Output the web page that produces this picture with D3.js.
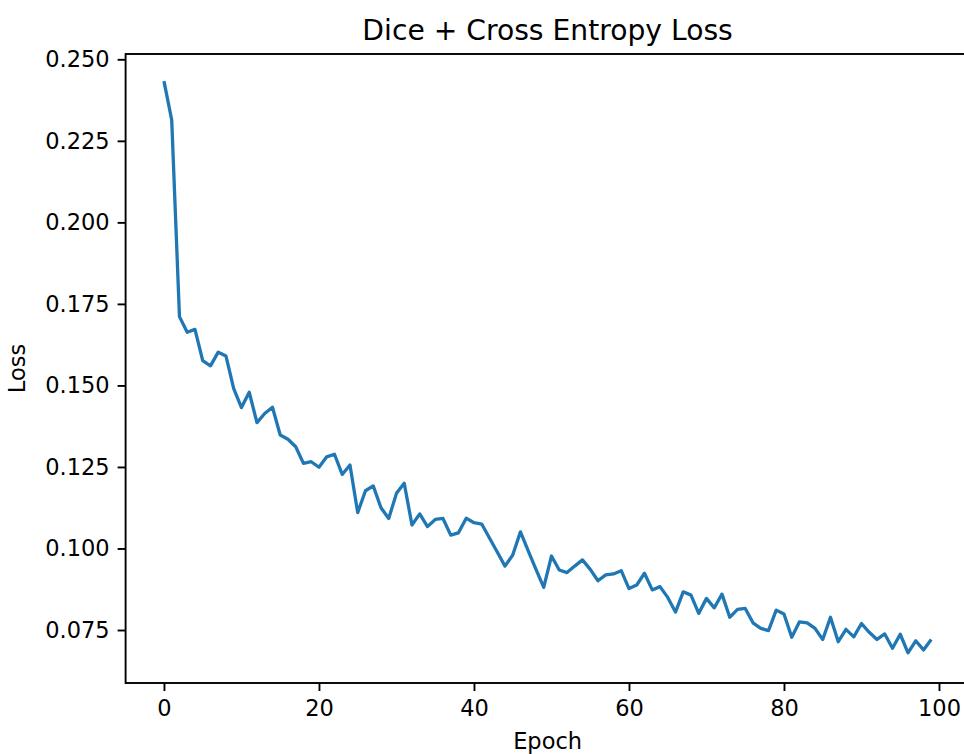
<!DOCTYPE html>
<html>
<head>
<meta charset="utf-8">
<script src="https://cdn.jsdelivr.net/npm/d3@7"></script>
<style>
  html, body { margin: 0; padding: 0; background: #fff; }
  svg { display: block; }
  text { font-family: "DejaVu Sans", sans-serif; fill: #000; }
</style>
</head>
<body>
<svg id="chart" width="964" height="754"></svg>
<script>
const epochs = d3.range(0, 100);
const lossValues = [
  0.2433, 0.2314, 0.1711, 0.1663, 0.1672, 0.1576, 0.1560, 0.1602, 0.1590, 0.1490,
  0.1432, 0.1479, 0.1386, 0.1414, 0.1433, 0.1348, 0.1335, 0.1312, 0.1261, 0.1266,
  0.1249, 0.1281, 0.1289, 0.1227, 0.1256, 0.1110, 0.1177, 0.1192, 0.1125, 0.1092,
  0.1169, 0.1200, 0.1072, 0.1106, 0.1067, 0.1089, 0.1092, 0.1041, 0.1048, 0.1093,
  0.1079, 0.1075, 0.1032, 0.0989, 0.0946, 0.0980, 0.1051, 0.0993, 0.0936, 0.0881,
  0.0977, 0.0934, 0.0926, 0.0946, 0.0965, 0.0936, 0.0901, 0.0919, 0.0922, 0.0932,
  0.0877, 0.0888, 0.0924, 0.0873, 0.0883, 0.0850, 0.0805, 0.0867, 0.0857, 0.0801,
  0.0847, 0.0818, 0.0860, 0.0789, 0.0813, 0.0816, 0.0772, 0.0755, 0.0748, 0.0811,
  0.0799, 0.0728, 0.0775, 0.0772, 0.0755, 0.0721, 0.0789, 0.0714, 0.0752, 0.0729,
  0.0770, 0.0743, 0.0721, 0.0738, 0.0694, 0.0737, 0.0680, 0.0717, 0.0689, 0.0721
];
const xTicks = [0, 20, 40, 60, 80, 100];
const yTicks = [0.075, 0.100, 0.125, 0.150, 0.175, 0.200, 0.225, 0.250];
const titleText = "Dice + Cross Entropy Loss";
const xLabel = "Epoch";
const yLabel = "Loss";

const svg = d3.select("#chart");
const plot = { left: 125.6, right: 969.6, top: 54, bottom: 683 };

const x = d3.scaleLinear().domain([-4.95, 103.95]).range([plot.left, plot.right]);
const y = d3.scaleLinear().domain([0.05875, 0.25163]).range([plot.bottom, plot.top]);

const tickFont = 22.5;
const tickLen = 8;
const axisColor = "#000";

// line
const line = d3.line().x((d, i) => x(epochs[i])).y(d => y(d));
svg.append("path")
  .datum(lossValues)
  .attr("d", line)
  .attr("fill", "none")
  .attr("stroke", "#1f77b4")
  .attr("stroke-width", 3.3)
  .attr("stroke-linejoin", "round")
  .attr("stroke-linecap", "butt");

// axes
const xAxis = d3.axisBottom(x).tickValues(xTicks).tickSize(tickLen).tickPadding(8).tickFormat(d3.format("d"));
const yAxis = d3.axisLeft(y).tickValues(yTicks).tickSize(tickLen).tickPadding(8).tickFormat(d3.format(".3f"));

const gx = svg.append("g").attr("transform", `translate(0,${plot.bottom})`).call(xAxis);
const gy = svg.append("g").attr("transform", `translate(${plot.left},0)`).call(yAxis);

[gx, gy].forEach(g => {
  g.select(".domain").remove();
  g.selectAll(".tick line").attr("stroke", axisColor).attr("stroke-width", 1.9);
  g.selectAll(".tick text")
    .attr("font-family", "DejaVu Sans, sans-serif")
    .attr("font-size", tickFont)
    .attr("fill", "#000");
});
gx.selectAll(".tick text").attr("dy", "0.76em");

// spines
svg.append("rect")
  .attr("x", plot.left).attr("y", plot.top)
  .attr("width", plot.right - plot.left).attr("height", plot.bottom - plot.top)
  .attr("fill", "none").attr("stroke", axisColor).attr("stroke-width", 1.9);

// title
svg.append("text")
  .attr("x", (plot.left + plot.right) / 2)
  .attr("y", 40)
  .attr("text-anchor", "middle")
  .attr("font-size", 28.2)
  .text(titleText);

// axis labels
svg.append("text")
  .attr("x", (plot.left + plot.right) / 2)
  .attr("y", 749)
  .attr("text-anchor", "middle")
  .attr("font-size", tickFont)
  .text(xLabel);

svg.append("text")
  .attr("transform", `translate(25,${(plot.top + plot.bottom) / 2}) rotate(-90)`)
  .attr("text-anchor", "middle")
  .attr("font-size", tickFont)
  .text(yLabel);
</script>
</body>
</html>
